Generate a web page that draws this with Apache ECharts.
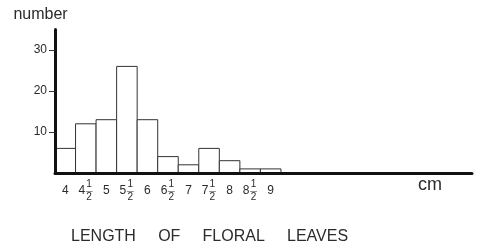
<!DOCTYPE html>
<html>
<head>
<meta charset="utf-8">
<script src="https://cdn.jsdelivr.net/npm/echarts@6/dist/echarts.min.js"></script>
<style>
  html, body { margin: 0; padding: 0; background: #fff; }
  #chart { width: 480px; height: 248px; }
</style>
</head>
<body>
<div id="chart"></div>
<script>
// leaf length classes (cm) and how many leaves fall in each
var lengths = [4, 4.5, 5, 5.5, 6, 6.5, 7, 7.5, 8, 8.5, 9]
var counts = [6, 12, 13, 26, 13, 4, 2, 6, 3, 1, 1]
var yTicks = [10, 20, 30]

var font = 'Liberation Sans, Arial, sans-serif'
var ink = '#2b2b2b'

// whole numbers sit in the middle line, halves get a stacked 1/2
function lengthLabel(v) {
  var whole = Math.floor(v)
  if (v === whole) {
    return '{gap| }\n{w|' + whole + '}\n{gap| }'
  }
  return '{h|' + whole + '}{f|1}\n{w|' + whole + '}{bar|—}\n{h|' + whole + '}{f|2}'
}

var chart = echarts.init(document.getElementById('chart'))

var option = {
  animation: false,
  backgroundColor: '#fff',
  title: {
    text: 'LENGTH     OF     FLORAL     LEAVES',
    left: 66,
    top: 224,
    textStyle: { fontFamily: font, fontSize: 16, fontWeight: 'normal', color: ink }
  },
  grid: { left: 55, right: 8, top: 29.5, bottom: 75 },
  xAxis: {
    type: 'value',
    min: 3.75,
    max: 13.9,
    z: 5,
    name: 'cm',
    nameLocation: 'end',
    nameGap: -54,
    nameTextStyle: {
      fontFamily: font, fontSize: 18, color: ink,
      align: 'left', verticalAlign: 'top', padding: [3, 0, 0, 0]
    },
    axisLine: { lineStyle: { color: '#111', width: 3 } },
    axisTick: { show: false },
    splitLine: { show: false },
    axisLabel: {
      customValues: lengths,
      margin: 8,
      formatter: lengthLabel,
      rich: {
        w: { fontFamily: font, fontSize: 12, color: ink, lineHeight: 6.5 },
        h: { fontFamily: font, fontSize: 12, color: 'rgba(0,0,0,0)', lineHeight: 6.5 },
        f: { fontFamily: font, fontSize: 10, color: ink, lineHeight: 6.5, width: 8, align: 'center' },
        bar: { fontFamily: font, fontSize: 7, color: ink, lineHeight: 6.5, width: 8, align: 'center' },
        gap: { fontSize: 10, lineHeight: 6.5 }
      }
    }
  },
  yAxis: {
    type: 'value',
    min: 0,
    max: 35,
    z: 5,
    name: 'number',
    nameLocation: 'end',
    nameGap: 7,
    nameTextStyle: {
      fontFamily: font, fontSize: 16, color: ink,
      align: 'center', padding: [0, 29, 0, 0]
    },
    axisLine: { show: true, lineStyle: { color: '#111', width: 3 } },
    axisTick: { show: true, length: 6, customValues: yTicks, lineStyle: { color: '#333', width: 1 } },
    splitLine: { show: false },
    axisLabel: {
      customValues: yTicks,
      margin: 8,
      fontFamily: font,
      fontSize: 12,
      color: ink
    }
  },
  series: [{
    type: 'custom',
    z: 1,
    data: lengths.map(function (x, i) { return [x, counts[i]] }),
    renderItem: function (params, api) {
      var x = api.value(0)
      var y = api.value(1)
      var p0 = api.coord([x - 0.25, y])
      var p1 = api.coord([x + 0.25, 0])
      return {
        type: 'rect',
        shape: { x: p0[0], y: p0[1], width: p1[0] - p0[0], height: p1[1] - p0[1] },
        style: { fill: '#fff', stroke: '#333', lineWidth: 1 }
      }
    }
  }]
}

chart.setOption(option)
</script>
</body>
</html>
